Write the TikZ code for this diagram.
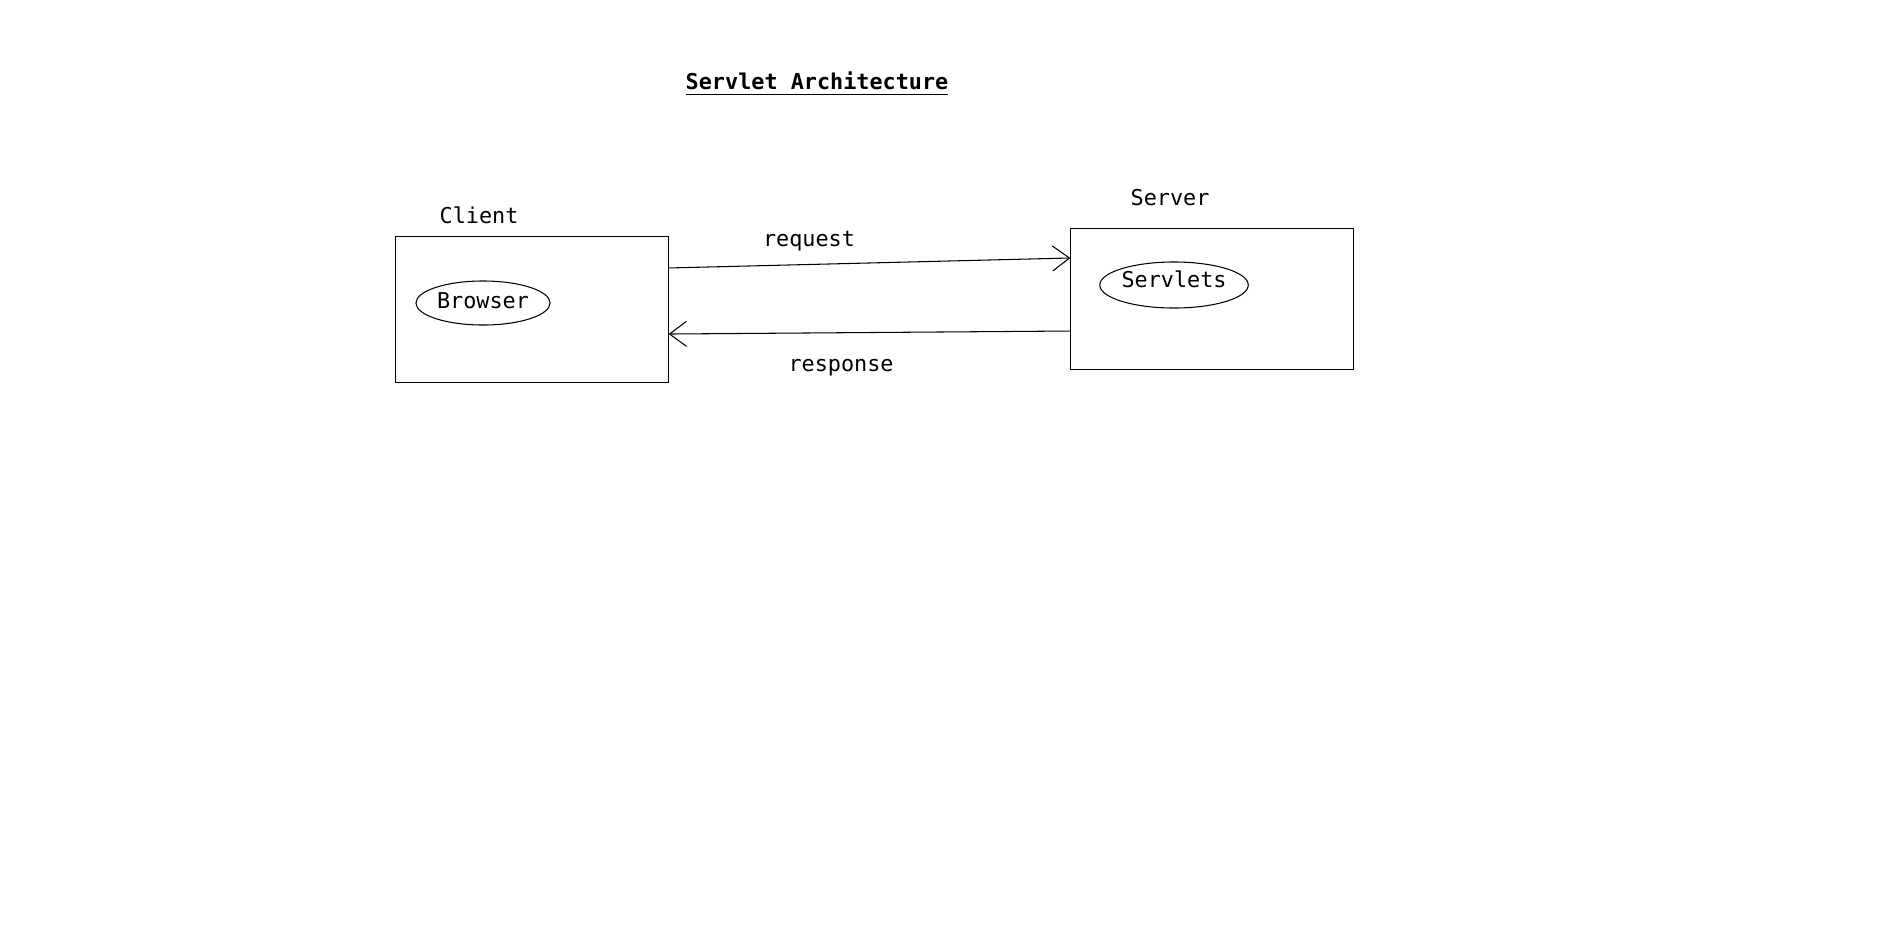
\documentclass[tikz,border=0pt]{standalone}
\usepackage{fontspec}
\setmonofont{DejaVu Sans Mono}
\usetikzlibrary{arrows.meta,shapes.geometric}
\tikzset{
  hostbox/.style={draw=black,line width=0.3pt,
                  minimum width=2.72cm,minimum height=1.45cm,inner sep=0pt},
  appoval/.style={ellipse,draw=black,line width=0.3pt,
                  minimum width=1.34cm,minimum height=0.44cm,inner sep=0pt,
                  font=\fontsize{6.2}{7}\ttfamily},
  tag/.style={font=\fontsize{6.2}{7}\ttfamily,inner sep=0pt},
  msgarr/.style={-{Straight Barb[length=1.7mm,width=2.5mm]},line width=0.3pt}
}
\begin{document}
\begin{tikzpicture}[x=0.01cm,y=-0.01cm]
    \path[use as bounding box] (0,0) rectangle (1883,951);
    \node[tag] (title) at (817,84) {\textbf{\underline{Servlet Architecture}}};

    \node[hostbox] (client) at (532,309.5) {};
    \node[tag] (clientlbl) at (479,215) {Client};
    \node[appoval] (browser) at (483,303) {\raisebox{1.5pt}{Browser}};

    \node[hostbox,minimum width=2.82cm,minimum height=1.4cm] (server) at (1212,299) {};
    \node[tag] (serverlbl) at (1170,198) {Server};
    \node[appoval,minimum width=1.44cm,minimum height=0.46cm] (servlets) at (1174,285) {\raisebox{3.5pt}{Servlets}};

    \draw[msgarr] ([yshift=4.15mm]client.east) -- ([yshift=4.1mm]server.west);
    \draw[msgarr] ([yshift=-3.2mm]server.west) -- ([yshift=-2.45mm]client.east);
    \node[tag] (reqlbl) at (809,241) {request};
    \node[tag] (resplbl) at (841,368) {response};
  \end{tikzpicture}
\end{document}
